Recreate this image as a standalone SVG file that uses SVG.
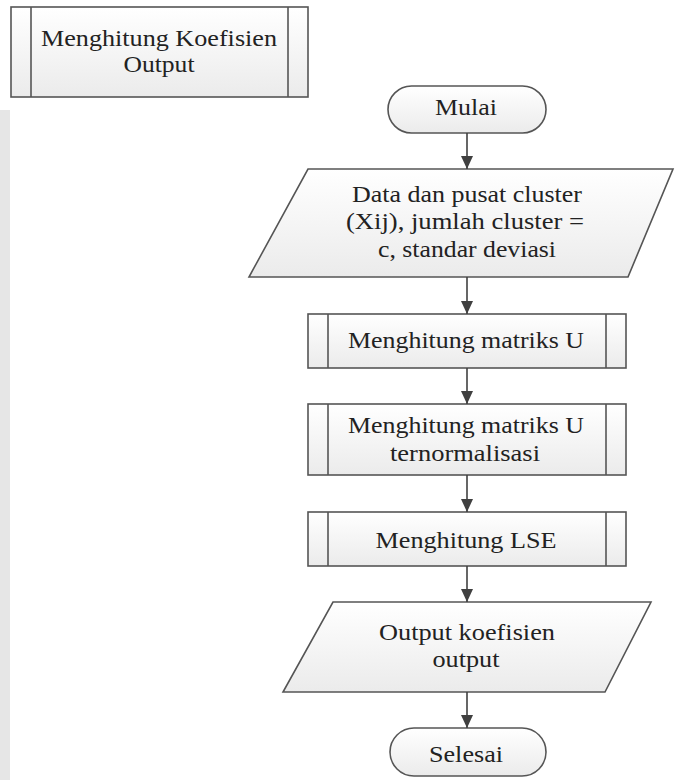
<svg xmlns="http://www.w3.org/2000/svg" width="676" height="780" viewBox="0 0 676 780">
  <defs>
    <linearGradient id="fillGrad" x1="0" y1="0" x2="0" y2="1">
      <stop offset="0" stop-color="#ffffff"/>
      <stop offset="1" stop-color="#ebebeb"/>
    </linearGradient>
    <marker id="arrow" markerWidth="13" markerHeight="12" refX="13" refY="6" orient="auto" markerUnits="userSpaceOnUse">
      <path d="M0,0 L13,6 L0,12 Z" fill="#404040"/>
    </marker>
    <style>
      .shape { fill: url(#fillGrad); stroke: #555555; stroke-width: 1.6; }
      .bar { stroke: #555555; stroke-width: 1.6; fill: none; }
      .conn { stroke: #404040; stroke-width: 1.6; fill: none; marker-end: url(#arrow); }
      .lbl { font-family: "Liberation Serif", "Times New Roman", serif; font-size: 23px; fill: #222222; text-anchor: middle; }
    </style>
  </defs>

  <rect width="676" height="780" fill="#ffffff"/>
  <!-- faint background band along the left edge -->
  <rect x="0" y="110" width="10" height="670" fill="#e6e6e6"/>

  <!-- predefined process: Menghitung Koefisien Output -->
  <g id="node-title">
    <rect class="shape" x="11" y="7" width="297" height="90"/>
    <line class="bar" x1="31" y1="7" x2="31" y2="97"/>
    <line class="bar" x1="288" y1="7" x2="288" y2="97"/>
    <text class="lbl" x="159" y="46" textLength="236" lengthAdjust="spacingAndGlyphs">Menghitung Koefisien</text>
    <text class="lbl" x="159" y="72" textLength="71" lengthAdjust="spacingAndGlyphs">Output</text>
  </g>

  <g id="node-mulai">
    <rect class="shape" x="388" y="86" width="158" height="47" rx="23.5" ry="23.5"/>
    <text class="lbl" x="466" y="115" textLength="62" lengthAdjust="spacingAndGlyphs">Mulai</text>
  </g>

  <g id="node-input">
    <polygon class="shape" points="308,169 673,169 628,277 249,277"/>
    <text class="lbl" x="467" y="202" textLength="230" lengthAdjust="spacingAndGlyphs">Data dan pusat cluster</text>
    <text class="lbl" x="465" y="229" textLength="238" lengthAdjust="spacingAndGlyphs">(Xij), jumlah cluster =</text>
    <text class="lbl" x="467" y="257" textLength="178" lengthAdjust="spacingAndGlyphs">c, standar deviasi</text>
  </g>

  <g id="node-matriks-u">
    <rect class="shape" x="308" y="314" width="318" height="54"/>
    <line class="bar" x1="328" y1="314" x2="328" y2="368"/>
    <line class="bar" x1="606" y1="314" x2="606" y2="368"/>
    <text class="lbl" x="466" y="348" textLength="236" lengthAdjust="spacingAndGlyphs">Menghitung matriks U</text>
  </g>

  <g id="node-matriks-u-norm">
    <rect class="shape" x="308" y="404" width="318" height="71"/>
    <line class="bar" x1="328" y1="404" x2="328" y2="475"/>
    <line class="bar" x1="606" y1="404" x2="606" y2="475"/>
    <text class="lbl" x="466" y="433" textLength="236" lengthAdjust="spacingAndGlyphs">Menghitung matriks U</text>
    <text class="lbl" x="465" y="461" textLength="150" lengthAdjust="spacingAndGlyphs">ternormalisasi</text>
  </g>

  <g id="node-lse">
    <rect class="shape" x="308" y="512" width="318" height="54"/>
    <line class="bar" x1="328" y1="512" x2="328" y2="566"/>
    <line class="bar" x1="606" y1="512" x2="606" y2="566"/>
    <text class="lbl" x="466" y="548" textLength="181" lengthAdjust="spacingAndGlyphs">Menghitung LSE</text>
  </g>

  <g id="node-output">
    <polygon class="shape" points="333,602 651,602 605,692 283,692"/>
    <text class="lbl" x="467" y="640" textLength="176" lengthAdjust="spacingAndGlyphs">Output koefisien</text>
    <text class="lbl" x="466" y="667" textLength="67" lengthAdjust="spacingAndGlyphs">output</text>
  </g>

  <g id="node-selesai">
    <rect class="shape" x="390" y="728" width="156" height="48" rx="24" ry="24"/>
    <text class="lbl" x="466" y="762" textLength="74" lengthAdjust="spacingAndGlyphs">Selesai</text>
  </g>

  <g id="connectors">
    <line class="conn" x1="467" y1="133" x2="467" y2="169"/>
    <line class="conn" x1="467" y1="277" x2="467" y2="314"/>
    <line class="conn" x1="467" y1="368" x2="467" y2="404"/>
    <line class="conn" x1="467" y1="475" x2="467" y2="512"/>
    <line class="conn" x1="467" y1="566" x2="467" y2="602"/>
    <line class="conn" x1="467" y1="692" x2="467" y2="728"/>
  </g>
</svg>
